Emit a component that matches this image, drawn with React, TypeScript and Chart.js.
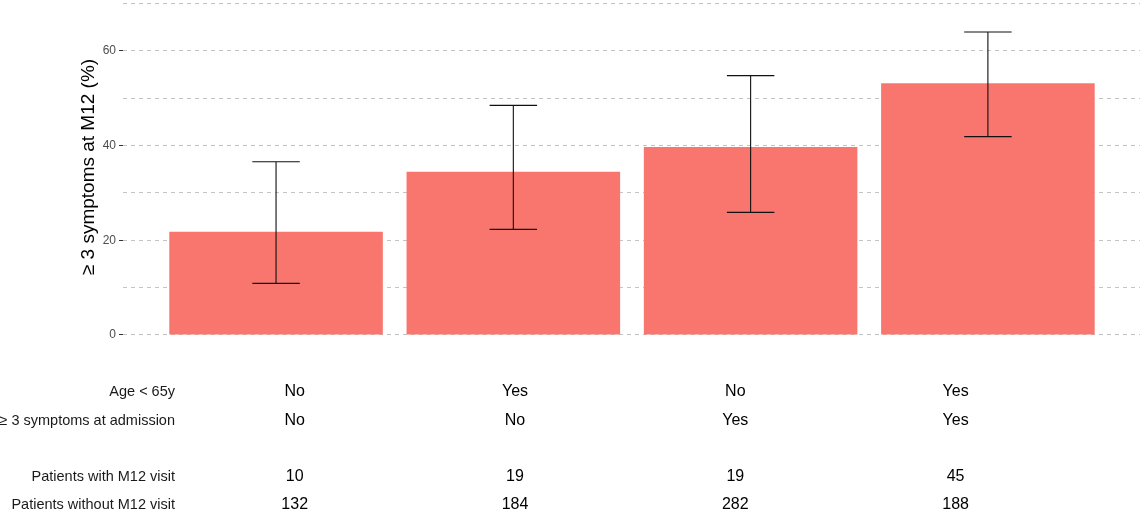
import React, { useEffect, useRef } from "react";
import { Chart, registerables } from "chart.js";

Chart.register(...registerables);

// ---- data ----
const groups = ["Group 1", "Group 2", "Group 3", "Group 4"];
const percentAtM12 = [21.8, 34.5, 39.7, 53.2];
const ciLower = [10.9, 22.3, 25.9, 41.9];
const ciUpper = [36.6, 48.5, 54.8, 64.0];
const ageUnder65 = ["No", "Yes", "No", "Yes"];
const symptomsAtAdmission = ["No", "No", "Yes", "Yes"];
const patientsWithM12 = ["10", "19", "19", "45"];
const patientsWithoutM12 = ["132", "184", "282", "188"];
const yTickLabels = [0, 20, 40, 60];
const tableRowLabels = [
  "Age < 65y",
  "≥ 3 symptoms at admission",
  "Patients with M12 visit",
  "Patients without M12 visit",
];
const yAxisTitle = "≥ 3 symptoms at M12 (%)";

// ---- layout / style ----
const FONT = "'Liberation Sans', Arial, Helvetica, sans-serif";
const BAR_COLOR = "#F8766D";
const GRID_COLOR = "#c4c4c4";
const TABLE_LABEL_RIGHT = 175;
const TABLE_COL_START = 294.7;
const TABLE_COL_STEP = 220.3;
const TABLE_BASELINES = [396, 424.5, 481, 509];

const errorBarPlugin = {
  id: "errorBars",
  afterDatasetsDraw(chart: any) {
    const x = chart.scales.x;
    const y = chart.scales.y;
    const ctx = chart.ctx;
    ctx.save();
    ctx.strokeStyle = "#111";
    ctx.lineWidth = 1.1;
    groups.forEach((_, i) => {
      const cx = x.getPixelForValue(i + 1);
      const half = x.getPixelForValue(i + 1.1) - cx;
      const yl = y.getPixelForValue(ciLower[i]);
      const yu = y.getPixelForValue(ciUpper[i]);
      ctx.beginPath();
      ctx.moveTo(cx, yl);
      ctx.lineTo(cx, yu);
      ctx.moveTo(cx - half, yl);
      ctx.lineTo(cx + half, yl);
      ctx.moveTo(cx - half, yu);
      ctx.lineTo(cx + half, yu);
      ctx.stroke();
    });
    ctx.restore();
  },
};

const annotationPlugin = {
  id: "tableAndTitle",
  afterDraw(chart: any) {
    const ctx = chart.ctx;
    ctx.save();
    // y axis title
    ctx.translate(89, 167);
    ctx.rotate(-Math.PI / 2);
    ctx.fillStyle = "#000";
    ctx.font = `19px ${FONT}`;
    ctx.textAlign = "center";
    ctx.textBaseline = "middle";
    ctx.fillText(yAxisTitle, 0, 0);
    ctx.restore();

    // table below
    const rows = [ageUnder65, symptomsAtAdmission, patientsWithM12, patientsWithoutM12];
    ctx.save();
    ctx.textBaseline = "alphabetic";
    rows.forEach((row, r) => {
      const by = TABLE_BASELINES[r];
      ctx.fillStyle = "#1a1a1a";
      ctx.font = `14.5px ${FONT}`;
      ctx.textAlign = "right";
      ctx.fillText(tableRowLabels[r], TABLE_LABEL_RIGHT, by);
      ctx.fillStyle = "#000";
      ctx.font = `16px ${FONT}`;
      ctx.textAlign = "center";
      row.forEach((v, c) => {
        ctx.fillText(v, TABLE_COL_START + c * TABLE_COL_STEP, by);
      });
    });
    ctx.restore();
  },
};

export default function App() {
  const canvasRef = useRef<HTMLCanvasElement | null>(null);

  useEffect(() => {
    document.body.style.margin = "0";
    const canvas = canvasRef.current;
    if (!canvas) return;
    const chart = new Chart(canvas, {
      type: "bar",
      data: {
        datasets: [
          {
            label: "≥ 3 symptoms at M12 (%)",
            data: percentAtM12.map((v, i) => ({ x: i + 1, y: v })),
            backgroundColor: BAR_COLOR,
            borderWidth: 0,
            barPercentage: 0.9,
            categoryPercentage: 1.0,
          },
        ],
      },
      options: {
        animation: false,
        responsive: true,
        maintainAspectRatio: false,
        layout: { padding: { left: 0, right: 0, top: 0, bottom: 163.5 } },
        plugins: {
          legend: { display: false },
          tooltip: { enabled: false },
        },
        scales: {
          x: {
            type: "linear",
            display: false,
            offset: false,
            min: 0.355,
            max: 4.641,
            ticks: { stepSize: 1, includeBounds: false },
            grid: { display: false, offset: false },
          },
          y: {
            min: -3.5,
            max: 70.77,
            afterFit: (s: any) => {
              s.width = 123;
              s.paddingTop = 0;
              s.paddingBottom = 0;
            },
            ticks: {
              stepSize: 10,
              includeBounds: false,
              autoSkip: false,
              padding: 3,
              color: "#4d4d4d",
              font: { size: 12, family: FONT },
              callback: (v: any) => (yTickLabels.includes(Number(v)) ? String(v) : ""),
            },
            grid: {
              color: GRID_COLOR,
              lineWidth: 1,
              drawTicks: true,
              tickLength: 4,
              tickWidth: 1,
              tickColor: (ctx: any) =>
                yTickLabels.includes(ctx.tick?.value) ? "#333333" : "rgba(0,0,0,0)",
            },
            border: { display: false, dash: [4, 4] },
          },
        },
      },
      plugins: [errorBarPlugin, annotationPlugin],
    });
    return () => chart.destroy();
  }, []);

  return (
    <div style={{ position: "relative", width: "1140px", height: "515px" }}>
      <canvas ref={canvasRef} />
    </div>
  );
}
